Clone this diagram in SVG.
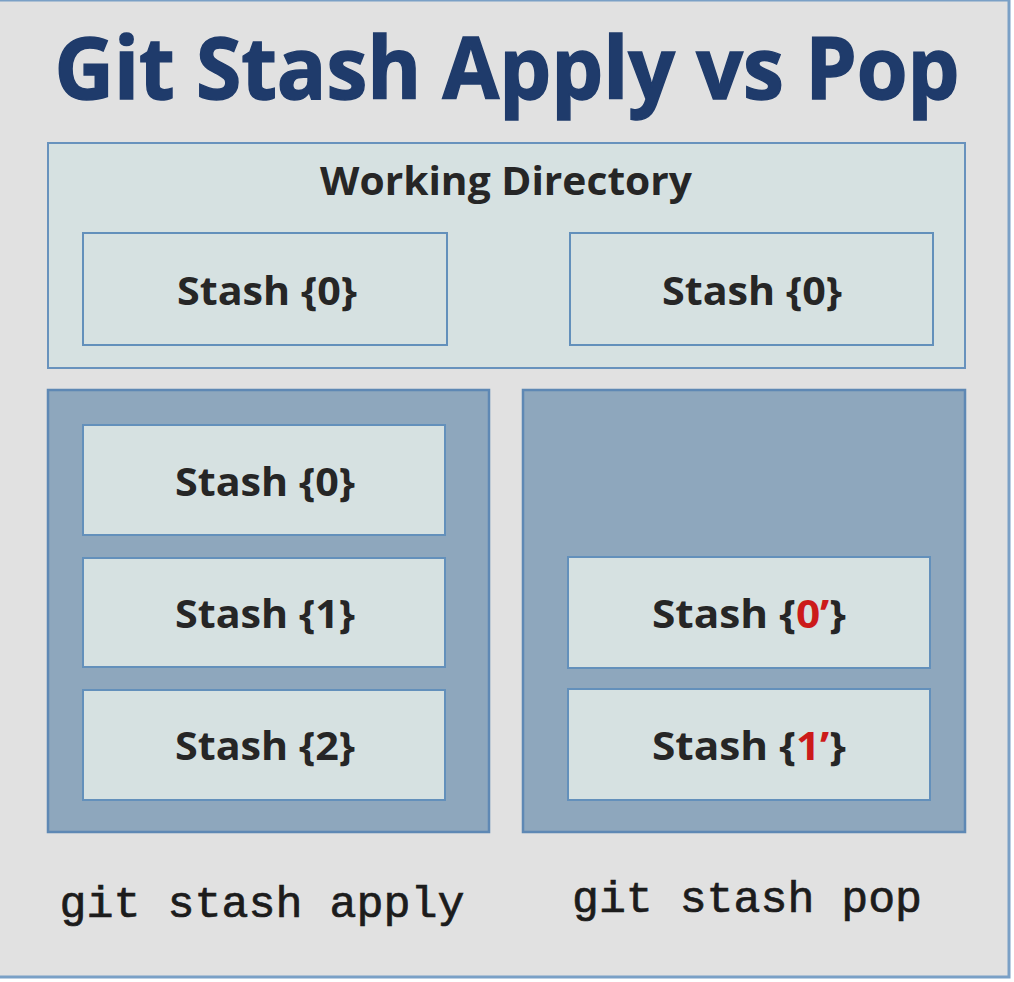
<svg xmlns="http://www.w3.org/2000/svg" width="1014" height="982" viewBox="0 0 1014 982">
<style>
.frame{fill:#e1e1e1;stroke:#7aa0c6;stroke-width:3}
.wd{fill:#d6e1e1;stroke:#6892bd;stroke-width:2}
.panel{fill:#8ea7bd;stroke:#5e88b4;stroke-width:2.5}
.box{fill:#d6e1e1;stroke:#6390bb;stroke-width:2}
.title{font-family:"Open Sans","Noto Sans",sans-serif;font-weight:bold;font-size:86px;fill:#1f3b6b;stroke:#1f3b6b;stroke-width:1.5}
.hdr{font-family:"Open Sans","Noto Sans",sans-serif;font-weight:bold;font-size:40px;fill:#262626}
.lbl{font-family:"Open Sans","Noto Sans",sans-serif;font-weight:bold;font-size:40px;fill:#262626}
.red{fill:#cc1a1a}
.cmd{font-family:"Liberation Mono","Courier New",monospace;font-size:45px;fill:#1c1c1c;stroke:#1c1c1c;stroke-width:0.7}
</style>
<rect class="frame" x="-3" y="0" width="1012" height="977"/>
<g id="title"><text class="title" x="507" y="99" text-anchor="middle" textLength="905" lengthAdjust="spacingAndGlyphs">Git Stash Apply vs Pop</text></g>
<g id="working-directory">
<rect class="wd" x="48" y="143" width="917" height="225"/>
<text class="hdr" x="506" y="195" text-anchor="middle" textLength="372" lengthAdjust="spacingAndGlyphs">Working Directory</text>
</g>
<g id="wd-stash-left"><rect class="box" x="83" y="233" width="364" height="112"/><text class="lbl" x="267" y="305" text-anchor="middle" textLength="180" lengthAdjust="spacingAndGlyphs">Stash {0}</text></g>
<g id="wd-stash-right"><rect class="box" x="570" y="233" width="363" height="112"/><text class="lbl" x="752" y="305" text-anchor="middle" textLength="180" lengthAdjust="spacingAndGlyphs">Stash {0}</text></g>
<g id="apply-panel"><rect class="panel" x="48" y="390" width="441" height="442"/></g>
<g id="pop-panel"><rect class="panel" x="523" y="390" width="442" height="442"/></g>
<g id="apply-stash0"><rect class="box" x="83" y="425" width="362" height="110"/><text class="lbl" x="265" y="496" text-anchor="middle" textLength="180" lengthAdjust="spacingAndGlyphs">Stash {0}</text></g>
<g id="apply-stash1"><rect class="box" x="83" y="558" width="362" height="109"/><text class="lbl" x="265" y="628" text-anchor="middle" textLength="180" lengthAdjust="spacingAndGlyphs">Stash {1}</text></g>
<g id="apply-stash2"><rect class="box" x="83" y="690" width="362" height="110"/><text class="lbl" x="265" y="760" text-anchor="middle" textLength="180" lengthAdjust="spacingAndGlyphs">Stash {2}</text></g>
<g id="pop-stash0"><rect class="box" x="568" y="557" width="362" height="111"/><text class="lbl" x="749" y="628" text-anchor="middle" textLength="194" lengthAdjust="spacingAndGlyphs">Stash {<tspan class="red">0’</tspan>}</text></g>
<g id="pop-stash1"><rect class="box" x="568" y="689" width="362" height="111"/><text class="lbl" x="749" y="760" text-anchor="middle" textLength="194" lengthAdjust="spacingAndGlyphs">Stash {<tspan class="red">1’</tspan>}</text></g>
<g id="connectors"></g>
<g id="cmd-apply"><text class="cmd" x="262" y="917" text-anchor="middle" textLength="405" lengthAdjust="spacingAndGlyphs">git stash apply</text></g>
<g id="cmd-pop"><text class="cmd" x="747" y="912" text-anchor="middle" textLength="350" lengthAdjust="spacingAndGlyphs">git stash pop</text></g>
</svg>
